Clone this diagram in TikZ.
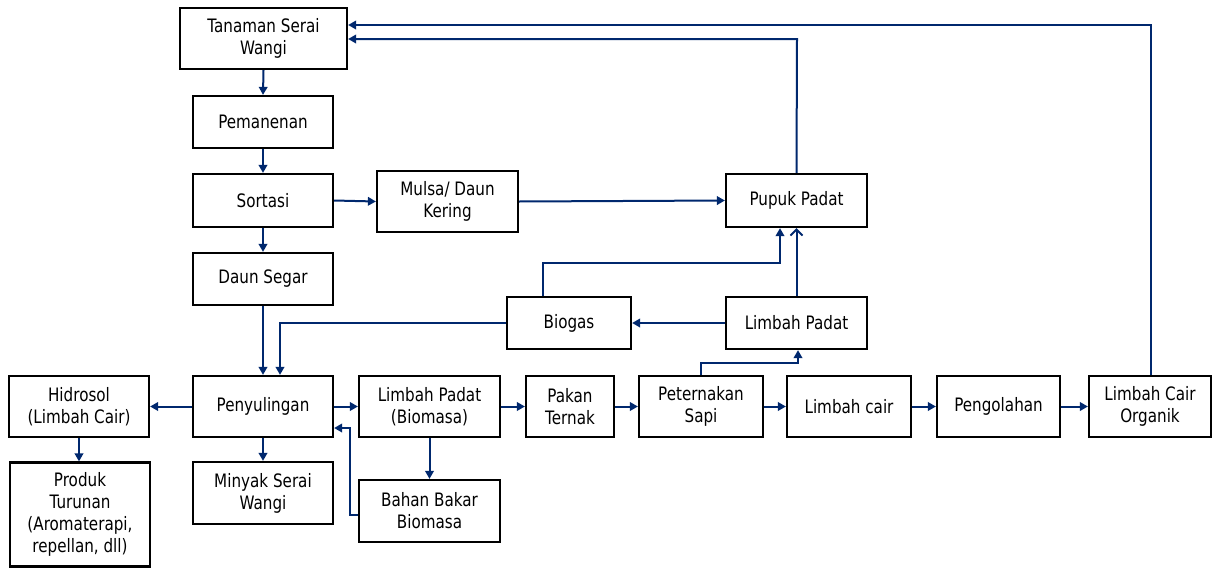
\documentclass[tikz,border=0pt]{standalone}
\usepackage{fontspec}
\setmainfont{DejaVu Sans}[FakeStretch=0.82]
\usetikzlibrary{arrows.meta,calc}
\definecolor{navy}{RGB}{0,40,110}
\tikzset{
  box/.style={draw=black, line width=2.2pt, fill=white, align=center, inner sep=1pt,
    font=\fontsize{18.5}{22}\selectfont},
  conn/.style={draw=navy, line width=2pt, -{Triangle[length=8pt,width=8.5pt]}},
  openconn/.style={draw=navy, line width=2pt, -{Straight Barb[length=6pt,width=12pt,line width=2pt]}},
}
\begin{document}
\begin{tikzpicture}[x=1pt,y=-1pt]
\useasboundingbox (0,0) rectangle (1213,568);
% boxes
\node[box, minimum width=167pt, minimum height=61pt] (tanaman) at (263.5,38.5) {Tanaman Serai\\Wangi};
\node[box, minimum width=140pt, minimum height=52pt] (pemanenan) at (263,122) {Pemanenan};
\node[box, minimum width=140pt, minimum height=53pt] (sortasi) at (263,200.5) {Sortasi};
\node[box, minimum width=141pt, minimum height=61pt] (mulsa) at (447.5,201.5) {Mulsa/ Daun\\Kering};
\node[box, minimum width=140pt, minimum height=52pt] (daun) at (263,279) {Daun Segar};
\node[box, minimum width=141pt, minimum height=53pt] (pupuk) at (796.5,200.5) {Pupuk Padat};
\node[box, minimum width=124pt, minimum height=52pt] (biogas) at (569,323) {Biogas};
\node[box, minimum width=141pt, minimum height=52pt] (lpadat) at (796.5,323) {Limbah Padat};
\node[box, minimum width=140pt, minimum height=61pt] (hidrosol) at (79,406.5) {Hidrosol\\(Limbah Cair)};
\node[box, minimum width=140pt, minimum height=61pt] (penyulingan) at (263,406.5) {Penyulingan};
\node[box, minimum width=141pt, minimum height=61pt] (biomasa) at (429.5,406.5) {Limbah Padat\\(Biomasa)};
\node[box, minimum width=88pt, minimum height=61pt] (pakan) at (570,406.5) {Pakan\\Ternak};
\node[box, minimum width=124pt, minimum height=61pt] (peternakan) at (701,406.5) {Peternakan\\Sapi};
\node[box, minimum width=124pt, minimum height=61pt] (lcair) at (849,406.5) {Limbah cair};
\node[box, minimum width=123pt, minimum height=61pt] (pengolahan) at (998.5,406.5) {Pengolahan};
\node[box, minimum width=122pt, minimum height=61pt] (organik) at (1150,406.5) {Limbah Cair\\Organik};
\node[box, minimum width=140pt, minimum height=104pt] (produk) at (80,514.5) {Produk\\Turunan\\(Aromaterapi,\\repellan, dll)};
\node[box, minimum width=140pt, minimum height=62pt] (minyak) at (263,493) {Minyak Serai\\Wangi};
\node[box, minimum width=141pt, minimum height=62pt] (bahan) at (429.5,511) {Bahan Bakar\\Biomasa};
% helper coordinates
\coordinate (ptop) at (797,39);
\coordinate (otop) at (1151,25);
\coordinate (b1) at (543,263);
\coordinate (b2) at (780,263);
\coordinate (k1) at (350,515);
\coordinate (k2) at (350,428);
\coordinate (q1) at (701,363);
\coordinate (q2) at (798,363);
\coordinate (g1) at (280,323);
% connectors
\draw[conn] (tanaman.south) -- (pemanenan.north);
\draw[conn] (pemanenan.south) -- (sortasi.north);
\draw[conn] (sortasi.south) -- (daun.north);
\draw[conn] (sortasi.east) -- (mulsa.west);
\draw[conn] (mulsa.east) -- (pupuk.west);
\draw[conn] (daun.south) -- (penyulingan.north);
\draw[conn] (lpadat.west) -- (biogas.east);
\draw[conn] (biogas.west) -- (g1) -- (penyulingan.north -| g1);
\draw[conn] (biogas.north -| b1) -- (b1) -- (b2) -- (pupuk.south -| b2);
\draw[openconn] (lpadat.north) -- (pupuk.south);
\draw[conn] (pupuk.north) -- (ptop) -- (tanaman.east |- ptop);
\draw[conn] (organik.north -| otop) -- (otop) -- (tanaman.east |- otop);
\draw[conn] (penyulingan.west) -- (hidrosol.east);
\draw[conn] (hidrosol.south) -- (produk.north -| hidrosol.south);
\draw[conn] (penyulingan.south) -- (minyak.north);
\draw[conn] (penyulingan.east) -- (biomasa.west);
\draw[conn] (biomasa.south) -- (bahan.north);
\draw[conn] (bahan.west |- k1) -- (k1) -- (k2) -- (penyulingan.east |- k2);
\draw[conn] (biomasa.east) -- (pakan.west);
\draw[conn] (pakan.east) -- (peternakan.west);
\draw[conn] (peternakan.east) -- (lcair.west);
\draw[conn] (lcair.east) -- (pengolahan.west);
\draw[conn] (pengolahan.east) -- (organik.west);
\draw[conn] (peternakan.north -| q1) -- (q1) -- (q2) -- (lpadat.south -| q2);
\end{tikzpicture}
\end{document}
